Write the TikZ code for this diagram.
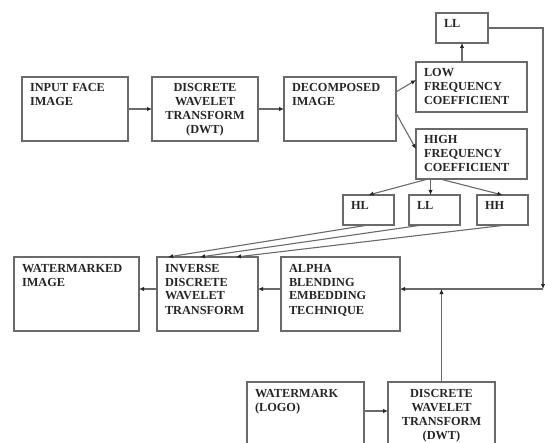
\documentclass[tikz,border=0pt]{standalone}
\usepackage{fontspec}
\setmainfont{Liberation Serif}
\usepackage{tikz}
\usetikzlibrary{arrows.meta}
\definecolor{edge}{HTML}{6A6A6A}
\definecolor{ink}{HTML}{262626}

\begin{document}
\begin{tikzpicture}[
    x=1pt, y=-1pt,
    box/.style 2 args={draw=edge, line width=1.2pt, outer sep=0pt, anchor=north west,
        inner xsep=8pt, inner ysep=0pt, text width=#1-16pt, text height=15pt,
        text depth=#2-15pt, align=left, text=ink, font=\fontsize{12.3}{14}\selectfont\bfseries},
    arrow/.style={-{Latex[length=5pt,width=4.5pt,color=ink]}, line width=1.1pt, color=edge}
]
    \useasboundingbox (0,0) rectangle (545,443);
    % decomposition of the face image
    \node[box={106pt}{64pt}] (input) at (22,77) {INPUT FACE\\IMAGE};
    \node[box={106pt}{64pt}, align=center] (dwt) at (152,77) {DISCRETE\\WAVELET\\TRANSFORM\\(DWT)};
    \node[box={112pt}{64pt}] (decomp) at (284,77) {DECOMPOSED\\IMAGE};
    \node[box={52pt}{30pt}] (lltop) at (436,13) {LL};
    \node[box={111pt}{50pt}] (lowfreq) at (416,62) {LOW\\FREQUENCY\\COEFFICIENT};
    \node[box={111pt}{50pt}] (highfreq) at (416,129) {HIGH\\FREQUENCY\\COEFFICIENT};
    \node[box={51pt}{30pt}] (hl) at (343,195) {HL};
    \node[box={51pt}{30pt}] (ll) at (409,195) {LL};
    \node[box={51pt}{30pt}] (hh) at (477,195) {HH};
    % embedding and reconstruction
    \node[box={125pt}{74pt}] (wmimage) at (14,257) {WATERMARKED\\IMAGE};
    \node[box={101pt}{74pt}] (idwt) at (157,257) {INVERSE\\DISCRETE\\WAVELET\\TRANSFORM};
    \node[box={119pt}{74pt}] (alpha) at (281,257) {ALPHA\\BLENDING\\EMBEDDING\\TECHNIQUE};
    \node[box={117pt}{80pt}] (logo) at (247,382) {WATERMARK\\(LOGO)};
    \node[box={107pt}{80pt}, align=center] (dwtlogo) at (388,382) {DISCRETE\\WAVELET\\TRANSFORM\\(DWT)};
    \coordinate (corner) at (543,289);

    \draw[arrow] (input) -- (dwt);
    \draw[arrow] (dwt) -- (decomp);
    \draw[arrow] ([yshift=-15pt]decomp.north east) -- ([yshift=-18pt]lowfreq.north west);
    \draw[arrow] ([yshift=-36pt]decomp.north east) -- ([yshift=-20pt]highfreq.north west);
    \draw[arrow] (lowfreq.north -| lltop.south) -- (lltop.south);
    \draw[arrow] ([xshift=12pt]highfreq.south west) -- (hl.north);
    \draw[arrow] ([xshift=-4pt]ll.north |- highfreq.south) -- ([xshift=-4pt]ll.north);
    \draw[arrow] ([xshift=24pt]highfreq.south west) -- (hh.north);
    \draw[arrow] (hl.south) -- ([xshift=11pt]idwt.north west);
    \draw[arrow] ([xshift=-12pt]ll.south) -- ([xshift=43pt]idwt.north west);
    \draw[arrow] ([xshift=4pt]hh.south) -- ([xshift=79pt]idwt.north west);
    \draw[arrow] (lltop.east) -| (corner);
    \draw[arrow] (corner) -- (alpha.east |- corner);
    \draw[arrow] (dwtlogo.north) -- (dwtlogo.north |- corner);
    \draw[arrow] ([yshift=-29pt]logo.north east) -- ([yshift=-29pt]dwtlogo.north west);
    \draw[arrow] (alpha.west |- corner) -- (idwt.east |- corner);
    \draw[arrow] (idwt.west |- corner) -- (wmimage.east |- corner);
\end{tikzpicture}
\end{document}
